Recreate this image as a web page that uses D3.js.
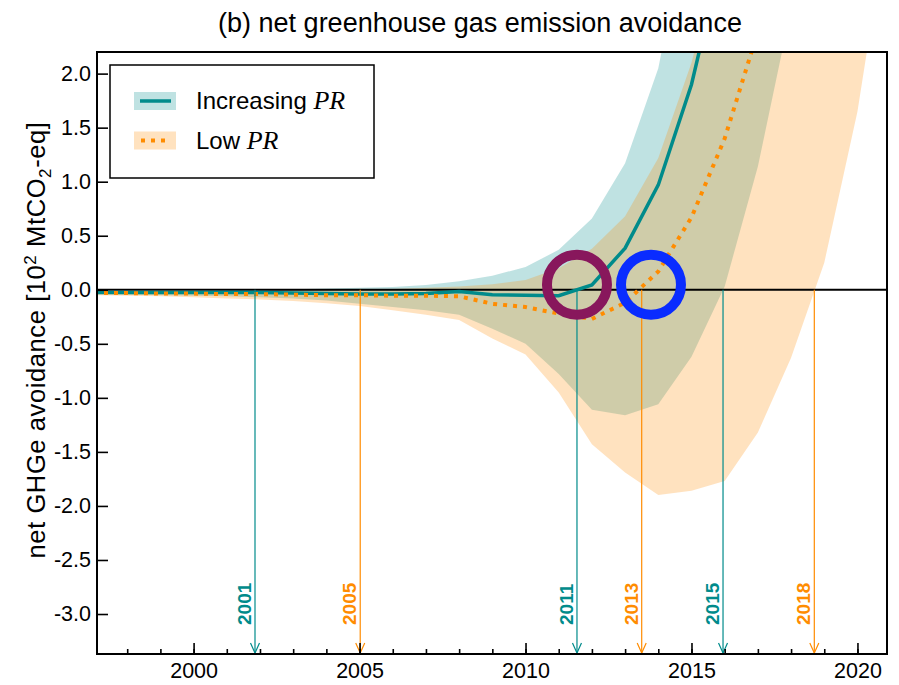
<!DOCTYPE html>
<html>
<head>
<meta charset="utf-8">
<script src="https://cdn.jsdelivr.net/npm/d3@7"></script>
<style>
    body { margin: 0; background: #fff; }
    text { font-family: "Liberation Sans", Arial, Helvetica, sans-serif; }
    .tick text { font-size: 21.5px; fill: #000; }
    .tick line { stroke: #000; stroke-width: 1.6; }
</style>
</head>
<body>
<div id="chart"></div>
<script>
// values (10^2 MtCO2-eq), one per year
const years = [1997, 1998, 1999, 2000, 2001, 2002, 2003, 2004, 2005, 2006, 2007, 2008, 2009,
    2010, 2011, 2012, 2013, 2014, 2015, 2016, 2017, 2018, 2019, 2020, 2021];

// Increasing PR
const incMid = [-0.025, -0.025, -0.025, -0.025, -0.025, -0.025, -0.03, -0.035, -0.04, -0.04, -0.035, -0.015, -0.045,
    -0.05, -0.055, 0.045, 0.385, 0.97, 1.9, 3.2, 4.8, 6.6, 8.6, 10.8, 13.2];
const incLow = [-0.04, -0.045, -0.05, -0.055, -0.06, -0.07, -0.08, -0.1, -0.13, -0.16, -0.19, -0.23, -0.36,
    -0.5, -0.78, -1.11, -1.16, -1.06, -0.62, 0.03, 1.14, 2.6, 4.3, 6.2, 8.3];
const incHigh = [-0.015, -0.013, -0.011, -0.008, -0.004, 0.001, 0.006, 0.012, 0.018, 0.026, 0.045, 0.08, 0.13,
    0.21, 0.37, 0.66, 1.17, 2.05, 3.6, 5.6, 8, 10.5, 13, 16, 19];

// Low PR
const lowMid = [-0.03, -0.03, -0.035, -0.035, -0.04, -0.04, -0.045, -0.05, -0.05, -0.055, -0.055, -0.06, -0.13,
    -0.16, -0.22, -0.27, -0.12, 0.17, 0.67, 1.4, 2.39, 3.6, 5.0, 6.6, 8.4];
const lowLow = [-0.05, -0.055, -0.06, -0.07, -0.08, -0.09, -0.105, -0.125, -0.15, -0.19, -0.23, -0.28, -0.45,
    -0.6, -0.95, -1.43, -1.69, -1.9, -1.86, -1.77, -1.32, -0.63, 0.25, 1.65, 3.6];
const lowHigh = [-0.02, -0.018, -0.016, -0.014, -0.011, -0.008, -0.005, -0.002, 0.0, 0.008, 0.018, 0.03, 0.05,
    0.09, 0.2, 0.38, 0.68, 1.22, 2.1, 3.3, 4.8, 6.5, 8.4, 10.5, 12.8];

// parity years marked with arrows
const parityAt = [2001.85, 2005.02, 2011.55, 2013.5, 2015.95, 2018.7];
const parityLabels = ['2001', '2005', '2011', '2013', '2015', '2018'];
const paritySeries = ['inc', 'low', 'inc', 'low', 'inc', 'low'];

// highlighted crossings
const ringX = [2011.55, 2013.78];
const ringY = [0.046, 0.046];
const ringColors = ['#88175c', '#0a2cff'];

const xMajor = [2000, 2005, 2010, 2015, 2020];
const yMajor = [-3.0, -2.5, -2.0, -1.5, -1.0, -0.5, 0.0, 0.5, 1.0, 1.5, 2.0];

function EmissionChart() {
    this.init();
}

EmissionChart.prototype.init = function() {
    let vis = this;

    vis.svgWidth = 899;
    vis.svgHeight = 685;
    vis.left = 97;
    vis.right = 887;
    vis.top = 52;
    vis.bottom = 654;

    vis.svg = d3.select('#chart').append('svg')
        .attr('width', vis.svgWidth)
        .attr('height', vis.svgHeight);

    vis.x = d3.scaleLinear().domain([1997.09, 2020.89]).range([vis.left, vis.right]);
    vis.y = d3.scaleLinear().domain([-3.37, 2.2]).range([vis.bottom, vis.top]);

    vis.svg.append('clipPath').attr('id', 'plot-clip')
        .append('rect')
        .attr('x', vis.left).attr('y', vis.top)
        .attr('width', vis.right - vis.left).attr('height', vis.bottom - vis.top);
}

EmissionChart.prototype.update = function() {
    let vis = this;
    let x = vis.x, y = vis.y;

    let series = {
        inc: { color: '#008b8b', mid: incMid, low: incLow, high: incHigh },
        low: { color: '#ff8c00', mid: lowMid, low: lowLow, high: lowHigh }
    };

    let plot = vis.svg.append('g').attr('clip-path', 'url(#plot-clip)');

    let area = d3.area()
        .x((d, i) => x(years[i]))
        .y0(d => y(d[0]))
        .y1(d => y(d[1]));

    let line = d3.line()
        .x((d, i) => x(years[i]))
        .y(d => y(d));

    ['inc', 'low'].forEach(k => {
        let s = series[k];
        plot.append('path')
            .datum(s.low.map((v, i) => [v, s.high[i]]))
            .attr('d', area)
            .attr('fill', s.color)
            .attr('fill-opacity', 0.25);
    });

    // zero line
    plot.append('line')
        .attr('x1', vis.left).attr('x2', vis.right)
        .attr('y1', y(0)).attr('y2', y(0))
        .attr('stroke', '#000').attr('stroke-width', 2);

    plot.append('path')
        .datum(incMid)
        .attr('d', line)
        .attr('fill', 'none')
        .attr('stroke', series.inc.color)
        .attr('stroke-width', 3.5);

    plot.append('path')
        .datum(lowMid)
        .attr('d', line)
        .attr('fill', 'none')
        .attr('stroke', series.low.color)
        .attr('stroke-width', 4)
        .attr('stroke-dasharray', '4,6');

    // parity arrows
    let arrows = plot.selectAll('g.parity').data(parityAt).enter()
        .append('g').attr('class', 'parity');

    arrows.append('line')
        .attr('x1', d => x(d)).attr('x2', d => x(d))
        .attr('y1', y(0)).attr('y2', vis.bottom)
        .attr('stroke', (d, i) => series[paritySeries[i]].color)
        .attr('stroke-width', 1.2);

    arrows.append('path')
        .attr('d', d => `M${x(d) - 4.5},${vis.bottom - 11}L${x(d)},${vis.bottom - 1}L${x(d) + 4.5},${vis.bottom - 11}`)
        .attr('fill', 'none')
        .attr('stroke', (d, i) => series[paritySeries[i]].color)
        .attr('stroke-width', 1.2);

    arrows.append('text')
        .attr('transform', d => `translate(${x(d) - 4},${vis.bottom - 29}) rotate(-90)`)
        .attr('text-anchor', 'start')
        .style('font-size', '19px')
        .style('font-weight', 'bold')
        .attr('fill', (d, i) => series[paritySeries[i]].color)
        .text((d, i) => parityLabels[i]);

    // rings
    vis.svg.selectAll('circle.ring').data(ringX).enter()
        .append('circle')
        .attr('class', 'ring')
        .attr('cx', d => x(d))
        .attr('cy', (d, i) => y(ringY[i]))
        .attr('r', 30)
        .attr('fill', 'none')
        .attr('stroke', (d, i) => ringColors[i])
        .attr('stroke-width', 10);

    // axes, ticks pointing inward
    vis.svg.append('g')
        .attr('transform', `translate(0,${vis.bottom})`)
        .call(d3.axisBottom(x).tickValues(d3.range(1998, 2021)).tickSize(-5).tickFormat(''))
        .call(g => g.select('.domain').remove());

    vis.svg.append('g')
        .attr('transform', `translate(0,${vis.bottom})`)
        .call(d3.axisBottom(x).tickValues(xMajor).tickSize(-11).tickPadding(9).tickFormat(d => d))
        .call(g => g.select('.domain').remove());

    vis.svg.append('g')
        .attr('transform', `translate(${vis.left},0)`)
        .call(d3.axisLeft(y).tickValues(yMajor).tickSize(-11).tickPadding(6).tickFormat(d => d.toFixed(1)))
        .call(g => g.select('.domain').remove());

    vis.svg.append('rect')
        .attr('x', vis.left).attr('y', vis.top)
        .attr('width', vis.right - vis.left).attr('height', vis.bottom - vis.top)
        .attr('fill', 'none').attr('stroke', '#000').attr('stroke-width', 2);

    // title
    vis.svg.append('text')
        .attr('x', 480).attr('y', 32)
        .attr('text-anchor', 'middle')
        .style('font-size', '27px')
        .text('(b) net greenhouse gas emission avoidance');

    // y label
    let yl = vis.svg.append('text')
        .attr('transform', 'translate(45,340) rotate(-90)')
        .attr('text-anchor', 'middle')
        .style('font-size', '25.5px')
        .style('letter-spacing', '0.6px');
    yl.append('tspan').text('net GHGe avoidance [10');
    yl.append('tspan').attr('dy', -9).style('font-size', '17px').text('2');
    yl.append('tspan').attr('dy', 9).text(' MtCO');
    yl.append('tspan').attr('dy', 6).style('font-size', '17px').text('2');
    yl.append('tspan').attr('dy', -6).text('-eq]');

    // legend
    let lg = vis.svg.append('g');
    lg.append('rect')
        .attr('x', 110).attr('y', 65).attr('width', 264).attr('height', 113)
        .attr('fill', '#fff').attr('stroke', '#000').attr('stroke-width', 1.5);

    let entries = [
        { key: 'inc', label: 'Increasing ', y: 101 },
        { key: 'low', label: 'Low ', y: 140.5 }
    ];
    entries.forEach(e => {
        let s = series[e.key];
        lg.append('rect')
            .attr('x', 134).attr('y', e.y - 9).attr('width', 42).attr('height', 18)
            .attr('fill', s.color).attr('fill-opacity', 0.25);
        let ln = lg.append('line')
            .attr('x1', 140).attr('x2', 171)
            .attr('y1', e.y).attr('y2', e.y)
            .attr('stroke', s.color)
            .attr('stroke-width', e.key == 'inc' ? 3.5 : 4);
        if (e.key == 'low') ln.attr('stroke-dasharray', '4,6').attr('x1', 141);
        let t = lg.append('text')
            .attr('x', 196).attr('y', e.y + 8)
            .style('font-size', '24px');
        t.append('tspan').text(e.label);
        t.append('tspan')
            .style('font-family', '"Liberation Serif", "DejaVu Serif", serif')
            .style('font-style', 'italic')
            .style('font-size', '26px')
            .text('PR');
    });
}

let chart = new EmissionChart();
chart.update();
</script>
</body>
</html>
